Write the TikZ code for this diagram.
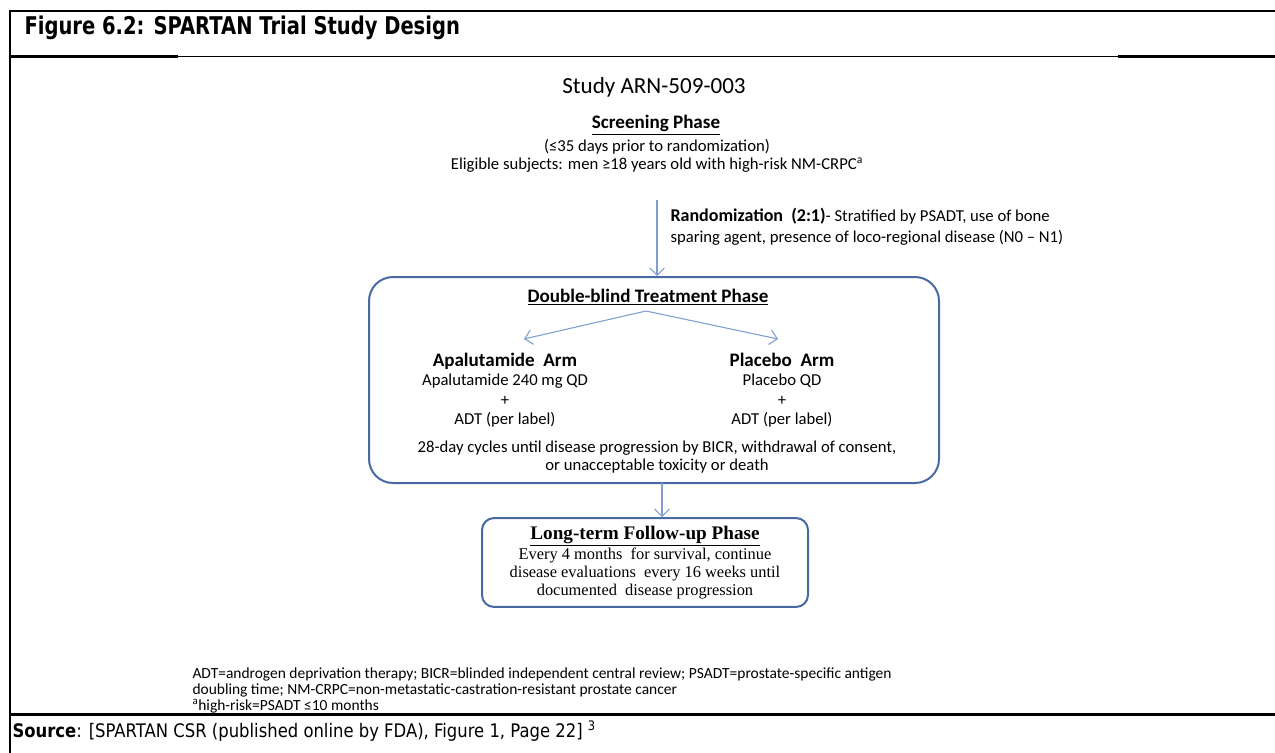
\documentclass[tikz,border=0pt]{standalone}
\usepackage{fontspec}
\setmainfont{Carlito}
\newfontfamily\tahomab[FakeStretch=0.8]{DejaVu Sans}
\newfontfamily\tahoma[FakeStretch=0.88]{DejaVu Sans}
\newfontfamily\timesfont{Liberation Serif}
\usetikzlibrary{arrows.meta}

\definecolor{boxblue}{RGB}{72,106,162}
\definecolor{arrblue}{RGB}{125,158,206}

\tikzset{every picture/.style={line width=0.75pt}}
\tikzset{
  phasebox/.style={draw=boxblue, line width=1.5pt, rectangle},
  flowarr/.style={draw=arrblue, line width=0.8pt, -{Straight Barb[length=5.5pt,width=11pt]}},
  txt/.style={inner sep=0pt, align=center},
  rule/.style={line width=2pt},
  thinrule/.style={line width=0.8pt},
}

\begin{document}
\begin{tikzpicture}[x=0.75pt,y=0.75pt,yscale=-1,xscale=1]
\useasboundingbox (0,0) rectangle (1275,753);

%Frame lines
\draw [rule] (10,11) -- (1275,11) ;
\draw [line width=1.6pt] (10,10) -- (10,753) ;
\draw [rule] (10,56.5) -- (178,56.5) ;
\draw [thinrule] (178,56.5) -- (1118,56.5) ;
\draw [rule] (1118,56.5) -- (1275,56.5) ;
\draw [rule] (10,714.5) -- (1275,714.5) ;

% Text Node
\node (title) at (24,28) [anchor=west, inner sep=0pt] {\tahomab\fontsize{18.3}{20}\selectfont\bfseries Figure 6.2: SPARTAN Trial Study Design};
% Text Node
\node (source) at (12,731) [anchor=west, inner sep=0pt] {\tahoma\fontsize{14}{16}\selectfont\textbf{Source}: [SPARTAN CSR (published online by FDA), Figure 1, Page 22] \textsuperscript{3}};

% Text Node
\node (study) at (654,87) [txt, font=\fontsize{17.3}{20}\selectfont] {Study ARN-509-003};
% Text Node
\node (screen) at (656,125) [txt, font=\fontsize{14.3}{16}\selectfont\bfseries] {\underline{Screening Phase}};
% Text Node
\node (screentxt) at (657,156) [txt, font=\fontsize{12.5}{13.5}\selectfont] {(≤35 days prior to randomization)\\ Eligible subjects: men ≥18 years old with high-risk NM-CRPC\textsuperscript{a}};
% Text Node
\node (rand) at (670,227) [anchor=west, inner sep=0pt, align=left, font=\fontsize{12.5}{15.7}\selectfont] {{\fontsize{13.5}{15.7}\selectfont\bfseries Randomization~ (2:1)}- Stratified by PSADT, use of bone\\ sparing agent, presence of loco-regional disease (N0 -- N1)};

%Rounded boxes
\node (dbt) at (654,380) [phasebox, rounded corners=18pt, minimum width=427.5pt, minimum height=154.5pt] {};
\node (fu) at (645,562.5) [phasebox, rounded corners=9pt, minimum width=244.5pt, minimum height=66.7pt, align=center, inner sep=0pt, font=\timesfont\fontsize{12.3}{13.7}\selectfont]
  {{\fontsize{14.4}{13.7}\selectfont\bfseries\underline{Long-term Follow-up Phase}}\\ Every 4 months~ for survival, continue\\ disease evaluations~ every 16 weeks until\\ documented~ disease progression};

% Text Node
\node (dbttitle) at (648,297) [txt, font=\fontsize{14.3}{16}\selectfont\bfseries] {\underline{Double-blind Treatment Phase}};
% Text Node
\node (apa) at (505,390) [txt, font=\fontsize{12.5}{14.5}\selectfont] {{\fontsize{14.3}{14.5}\selectfont\bfseries Apalutamide~ Arm}\\ Apalutamide 240 mg QD\\ +\\ ADT (per label)};
% Text Node
\node (pla) at (782,390) [txt, font=\fontsize{12.5}{14.5}\selectfont] {{\fontsize{14.3}{14.5}\selectfont\bfseries Placebo~ Arm}\\ Placebo QD\\ +\\ ADT (per label)};
% Text Node
\node (cycles) at (657,457) [txt, font=\fontsize{12.5}{13}\selectfont] {28-day cycles until disease progression by BICR, withdrawal of consent,\\ or unacceptable toxicity or death};

% Text Node
\node (notes) at (192,690) [anchor=west, inner sep=0pt, align=left, font=\fontsize{11.6}{12}\selectfont] {ADT=androgen deprivation therapy; BICR=blinded independent central review; PSADT=prostate-specific antigen\\ doubling time; NM-CRPC=non-metastatic-castration-resistant prostate cancer\\ \textsuperscript{a}high-risk=PSADT ≤10 months};

%Connector points
\coordinate (randtop) at (657,200);
\coordinate (split) at (646,311);
\coordinate (apatip) at (524,339);
\coordinate (platip) at (778,339);
\coordinate (fudown) at (662,483);

%Straight Lines
\draw [flowarr] (randtop) -- (randtop |- dbt.north) ;
\draw [flowarr] (split) -- (apatip) ;
\draw [flowarr] (split) -- (platip) ;
\draw [flowarr] (fudown) -- (fudown |- fu.north) ;

\end{tikzpicture}
\end{document}
